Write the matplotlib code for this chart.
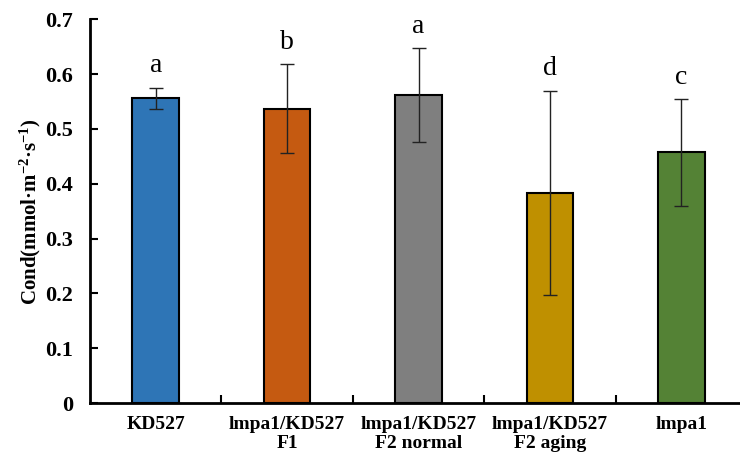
import matplotlib
matplotlib.use('Agg')
import matplotlib.pyplot as plt

# data
groups = ['KD527', 'lmpa1/KD527\nF1', 'lmpa1/KD527\nF2 normal', 'lmpa1/KD527\nF2 aging', 'lmpa1']
cond = [0.556, 0.537, 0.562, 0.383, 0.457]
err = [0.019, 0.081, 0.085, 0.186, 0.097]
letters = ['a', 'b', 'a', 'd', 'c']
colors = ['#2E75B6', '#C55A11', '#7F7F7F', '#BF9000', '#548235']

plt.rcParams['font.family'] = 'Liberation Serif'
plt.rcParams['mathtext.fontset'] = 'custom'
plt.rcParams['mathtext.rm'] = 'Liberation Serif:bold'
plt.rcParams['mathtext.default'] = 'rm'

fig = plt.figure(figsize=(7.4, 4.61), dpi=100)
ax = fig.add_axes([90 / 740, 58 / 461, 650 / 740, (403 - 19.3) / 461])

x = range(len(groups))
ax.bar(x, cond, width=0.355, color=colors, edgecolor='black', linewidth=1.5, zorder=2)
ax.errorbar(x, cond, yerr=err, fmt='none', ecolor='#222222', elinewidth=1,
            capsize=5, capthick=1, zorder=3)

for i in x:
    ax.annotate(letters[i], (i, cond[i] + err[i]), xytext=(0, 7), textcoords='offset points',
                ha='center', va='bottom', fontsize=20)

ax.set_xlim(-0.5, 650 / 131.4 - 0.5)
ax.set_ylim(0, 0.7)
ax.set_yticks([0, 0.1, 0.2, 0.3, 0.4, 0.5, 0.6, 0.7])
ax.set_yticklabels(['0', '0.1', '0.2', '0.3', '0.4', '0.5', '0.6', '0.7'])
ax.set_xticks(list(x))
ax.set_xticklabels(groups, fontweight='bold', fontsize=14, linespacing=1.2)
ax.set_xticks([i + 0.5 for i in range(4)], minor=True)

ax.tick_params(axis='y', direction='in', length=6, width=1.5, labelsize=16, pad=12)
ax.tick_params(axis='x', which='major', length=0, pad=9)
ax.tick_params(axis='x', which='minor', direction='in', length=6, width=1.5)
for lab in ax.get_yticklabels():
    lab.set_fontweight('bold')

ax.set_ylabel('Cond(mmol·m$^{-2}$·s$^{-1}$)', fontsize=15, fontweight='bold', labelpad=2)

ax.spines['top'].set_visible(False)
ax.spines['right'].set_visible(False)
ax.spines['left'].set_linewidth(2)
ax.spines['bottom'].set_linewidth(2)

fig.savefig('out.png', dpi=100)
